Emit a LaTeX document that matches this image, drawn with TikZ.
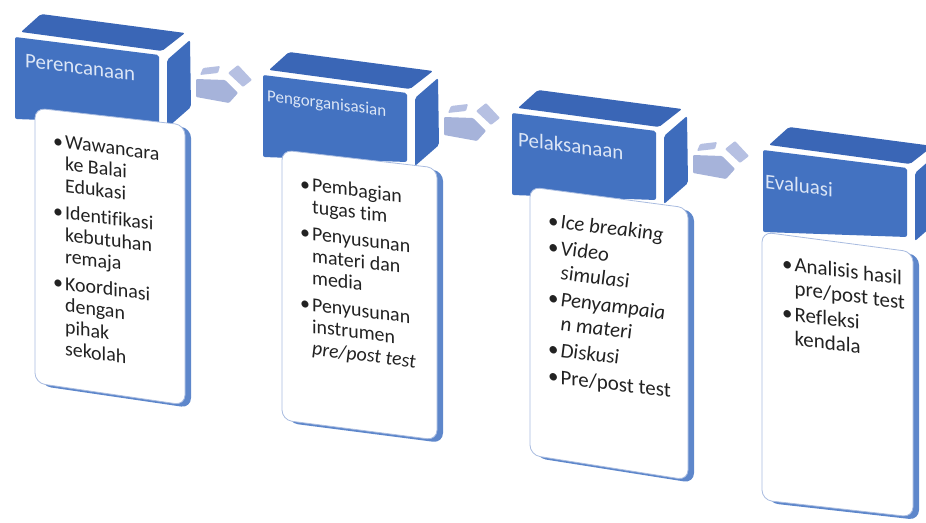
\documentclass[tikz,border=0pt]{standalone}
\usepackage{fontspec}
\setmainfont{Carlito}[Ligatures=NoCommon]
\definecolor{frontblue}{HTML}{4372C1}
\definecolor{topblue}{HTML}{3A66B6}
\definecolor{sideblue}{HTML}{3E6CBC}
\definecolor{arrowfront}{HTML}{A6B3DA}
\definecolor{arrowtop}{HTML}{B6C0E2}
\definecolor{boxedge}{HTML}{A9BCE0}
\definecolor{boxstrip}{HTML}{5E87CB}
\definecolor{titlecol}{HTML}{DCE6F6}
\definecolor{bodycol}{HTML}{222222}
\tikzset{
  frontface/.style={fill=frontblue, rounded corners=2bp},
  topface/.style={fill=topblue, rounded corners=2bp},
  sideface/.style={fill=sideblue, rounded corners=2bp},
  arrowfrontface/.style={fill=arrowfront, rounded corners=1bp},
  arrowtopface/.style={fill=arrowtop, rounded corners=1bp},
  panel/.style={fill=white, draw=boxedge, line width=0.8bp, rounded corners=10bp},
  panelstrip/.style={fill=boxstrip, rounded corners=10bp},
  titletext/.style={text=titlecol, inner sep=0pt, anchor=base west, transform shape},
  bodytext/.style={text=bodycol, inner sep=0pt, anchor=base west, transform shape},
}
\newcommand\stagehead[1]{%
  \begin{scope}[shift={#1}]
    \fill[topface] (21,32) -- (41,14) -- (185,33) -- (162,51) -- cycle;
    \fill[frontface] (15,37) -- (159,55) -- (159,124) -- (15,119) -- cycle;
    \fill[sideface] (167,60) -- (190,40) -- (191,107) -- (167,128) -- cycle;
  \end{scope}}
\newcommand\stagearrow[1]{%
  \begin{scope}[shift={#1}]
    \fill[arrowtopface] (203,68) -- (220,66) -- (218,73) -- (200,75) -- cycle;
    \fill[arrowtopface] (228,73) -- (238,65) -- (252,80) -- (243,87) -- cycle;
    \fill[arrowfrontface] (196,79) -- (225,80) -- (238,93) -- (229,103) -- (196,97) -- cycle;
  \end{scope}}
\newcommand\stagepanel[4]{%
  \fill[panelstrip, shift={(6,3)}] #1 -- #2 -- #3 -- #4 -- cycle;
  \filldraw[panel] #1 -- #2 -- #3 -- #4 -- cycle;}
\newcommand\bt{\textbullet}
\begin{document}
\begin{tikzpicture}[x=1bp, y=-1bp]
  \useasboundingbox (0,0) rectangle (926,523);
  % heads
  \stagehead{(0,0)}
  \stagehead{(248,38)}
  \stagehead{(497,76)}
  \stagehead{(748,113)}
  % arrows
  \stagearrow{(0,0)}
  \stagearrow{(248,38)}
  \stagearrow{(497,76)}
  % panels
  \stagepanel{(35,108)}{(185,125)}{(185,405)}{(35,383)}
  \stagepanel{(282,150)}{(437,168)}{(437,440)}{(282,420)}
  \stagepanel{(530,187)}{(688,208)}{(688,480)}{(530,455)}
  \stagepanel{(762,232)}{(913,252)}{(913,517)}{(762,500)}
  % titles
  \begin{scope}[shift={(25,67)}, yslant=-0.13]
    \node[titletext, font=\fontsize{21}{21}\selectfont] (title1) at (0,0) {Perencanaan};
  \end{scope}
  \begin{scope}[shift={(267,101)}, yslant=-0.13]
    \node[titletext, font=\fontsize{17}{17}\selectfont] (title2) at (0,0) {Pengorganisasian};
  \end{scope}
  \begin{scope}[shift={(518,146)}, yslant=-0.13]
    \node[titletext, font=\fontsize{21}{21}\selectfont] (title3) at (0,0) {Pelaksanaan};
  \end{scope}
  \begin{scope}[shift={(765,188)}, yslant=-0.13]
    \node[titletext, font=\fontsize{21}{21}\selectfont] (title4) at (0,0) {Evaluasi};
  \end{scope}
  % bodies
  \begin{scope}[shift={(53,147)}, yslant=-0.125]
    \node[bodytext, font=\fontsize{20}{22}\selectfont] (body1) at (0,0) {%
      \begin{tabular}[t]{@{}l@{\hspace{2bp}}l@{}}
        \bt & Wawancara\\ & ke Balai\\ & Edukasi\\[5bp]
        \bt & Identifikasi\\ & kebutuhan\\ & remaja\\[5bp]
        \bt & Koordinasi\\ & dengan\\ & pihak\\ & sekolah
      \end{tabular}};
  \end{scope}
  \begin{scope}[shift={(300,190)}, yslant=-0.125]
    \node[bodytext, font=\fontsize{20}{22}\selectfont] (body2) at (0,0) {%
      \begin{tabular}[t]{@{}l@{\hspace{2bp}}l@{}}
        \bt & Pembagian\\ & tugas tim\\[5bp]
        \bt & Penyusunan\\ & materi dan\\ & media\\[5bp]
        \bt & Penyusunan\\ & instrumen\\ & \textit{pre/post test}
      \end{tabular}};
  \end{scope}
  \begin{scope}[shift={(548,227)}, yslant=-0.125]
    \node[bodytext, font=\fontsize{21}{24}\selectfont] (body3) at (0,0) {%
      \begin{tabular}[t]{@{}l@{\hspace{2bp}}l@{}}
        \bt & \textit{Ice breaking}\\[3bp]
        \bt & \textit{Video}\\ & \textit{simulasi}\\[3bp]
        \bt & \textit{Penyampaia}\\ & \textit{n materi}\\[3bp]
        \bt & \textit{Diskusi}\\[3bp]
        \bt & Pre/post test
      \end{tabular}};
  \end{scope}
  \begin{scope}[shift={(782,270)}, yslant=-0.125]
    \node[bodytext, font=\fontsize{21}{24}\selectfont] (body4) at (0,0) {%
      \begin{tabular}[t]{@{}l@{\hspace{2bp}}l@{}}
        \bt & Analisis hasil\\ & pre/post test\\[2bp]
        \bt & Refleksi\\ & kendala
      \end{tabular}};
  \end{scope}
\end{tikzpicture}
\end{document}
